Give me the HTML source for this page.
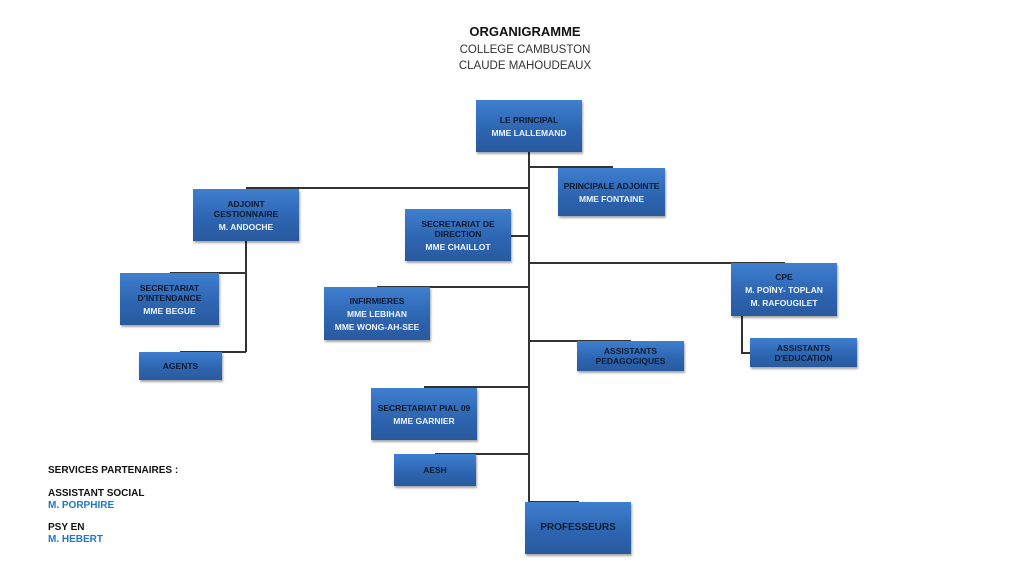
<!DOCTYPE html>
<html><head><meta charset="utf-8"><style>
body{margin:0;width:1024px;height:576px;background:#fff;position:relative;overflow:hidden;font-family:"Liberation Sans",sans-serif;}
.b{position:absolute;background:linear-gradient(#3f7fcf,#2c64b0 60%,#2a5a9e);box-shadow:1px 2px 2px rgba(0,0,0,.35);display:flex;flex-direction:column;justify-content:center;align-items:center;text-align:center;font-size:8.5px;font-weight:bold;line-height:10px;color:#0d1a30;}
.b .w{color:#eef4ff;margin-top:3px;}
.l{position:absolute;background:#333;}
.h{height:1.5px}.v{width:1.5px}
.t{position:absolute;font-size:10px;font-weight:bold;color:#111;}
.bl{color:#1f77c8}
</style></head><body>
<div style="position:absolute;left:0;width:1050px;top:24px;text-align:center;font-size:13px;font-weight:bold;color:#111">ORGANIGRAMME</div>
<div style="position:absolute;left:0;width:1050px;top:42px;text-align:center;font-size:11.5px;color:#333;line-height:16px">COLLEGE CAMBUSTON<br>CLAUDE MAHOUDEAUX</div>

<div class="l v" style="left:528px;top:152px;height:350px"></div>
<div class="l h" style="left:529px;top:166px;width:84px"></div>
<div class="l h" style="left:246px;top:187px;width:283px"></div>
<div class="l h" style="left:511px;top:235px;width:18px"></div>
<div class="l h" style="left:529px;top:262px;width:256px"></div>
<div class="l h" style="left:377px;top:286px;width:152px"></div>
<div class="l h" style="left:529px;top:340px;width:102px"></div>
<div class="l h" style="left:424px;top:386px;width:105px"></div>
<div class="l h" style="left:435px;top:453px;width:94px"></div>
<div class="l h" style="left:529px;top:501px;width:50px"></div>
<div class="l v" style="left:245px;top:241px;height:111px"></div>
<div class="l h" style="left:170px;top:272px;width:76px"></div>
<div class="l h" style="left:180px;top:351px;width:66px"></div>
<div class="l v" style="left:741px;top:316px;height:37px"></div>
<div class="l h" style="left:741px;top:352px;width:10px"></div>

<div class="b" style="left:476px;top:100px;width:106px;height:52px">LE PRINCIPAL<div class="w">MME LALLEMAND</div></div>
<div class="b" style="left:558px;top:168px;width:107px;height:48px">PRINCIPALE ADJOINTE<div class="w">MME FONTAINE</div></div>
<div class="b" style="left:193px;top:189px;width:106px;height:52px">ADJOINT<br>GESTIONNAIRE<div class="w">M. ANDOCHE</div></div>
<div class="b" style="left:405px;top:209px;width:106px;height:52px">SECRETARIAT DE<br>DIRECTION<div class="w">MME CHAILLOT</div></div>
<div class="b" style="left:731px;top:263px;width:106px;height:53px">CPE<div class="w">M. POÏNY- TOPLAN</div><div class="w">M. RAFOUGILET</div></div>
<div class="b" style="left:324px;top:287px;width:106px;height:53px">INFIRMIERES<div class="w">MME LEBIHAN</div><div class="w">MME WONG-AH-SEE</div></div>
<div class="b" style="left:120px;top:273px;width:99px;height:52px">SECRETARIAT<br>D'INTENDANCE<div class="w">MME BEGUE</div></div>
<div class="b" style="left:139px;top:352px;width:83px;height:28px">AGENTS</div>
<div class="b" style="left:577px;top:341px;width:107px;height:30px">ASSISTANTS<br>PEDAGOGIQUES</div>
<div class="b" style="left:750px;top:338px;width:107px;height:29px">ASSISTANTS<br>D'EDUCATION</div>
<div class="b" style="left:371px;top:388px;width:106px;height:52px">SECRETARIAT PIAL 09<div class="w">MME GARNIER</div></div>
<div class="b" style="left:394px;top:454px;width:82px;height:32px">AESH</div>
<div class="b" style="left:525px;top:502px;width:106px;height:52px;font-size:10px">PROFESSEURS</div>

<div class="t" style="left:48px;top:465px">SERVICES PARTENAIRES :</div>
<div class="t" style="left:48px;top:488px;line-height:12px">ASSISTANT SOCIAL<br><span class="bl">M. PORPHIRE</span></div>
<div class="t" style="left:48px;top:522px;line-height:12px">PSY EN<br><span class="bl">M. HEBERT</span></div>
</body></html>
